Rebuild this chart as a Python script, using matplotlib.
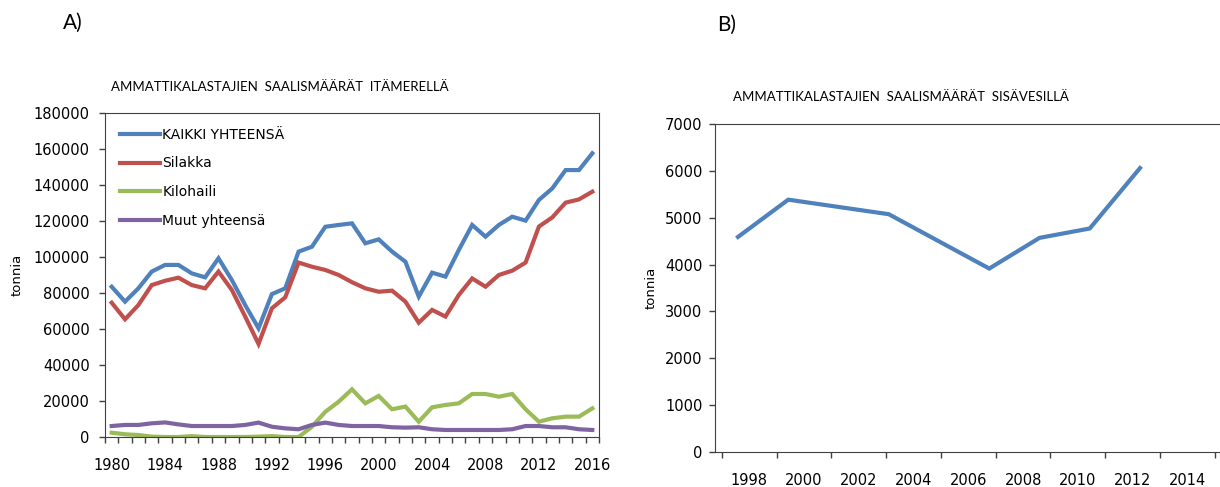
import matplotlib
matplotlib.use("Agg")
import matplotlib.pyplot as plt
import numpy as np

# --- data: Itämeri (A) ---
years_a = np.arange(1980, 2017)
kaikki = [83.5, 75.2, 82.6, 91.9, 95.6, 95.6, 90.9, 88.7, 99.3, 87.2,
          73.3, 60.4, 79.4, 82.6, 103.0, 105.7, 116.8, 117.8, 118.7, 107.6,
          109.8, 103.0, 97.4, 78.0, 91.3, 89.1, 103.9, 117.8, 111.3, 117.8,
          122.4, 120.2, 131.7, 138.1, 148.3, 148.3, 157.6]
silakka = [74.6, 65.4, 73.3, 84.4, 86.8, 88.5, 84.4, 82.6, 91.9, 81.7,
           66.9, 51.7, 71.5, 77.6, 96.9, 94.6, 92.8, 90.0, 86.0, 82.6,
           80.7, 81.3, 75.2, 63.5, 70.6, 66.9, 78.9, 88.1, 83.5, 90.0,
           92.4, 96.9, 116.9, 122.0, 130.2, 132.0, 136.3]
kilohaili = [2.4, 1.5, 1.1, 0.2, 0.0, 0.0, 0.5, 0.0, 0.0, 0.0,
             0.0, 0.2, 0.5, 0.0, 0.0, 5.7, 14.0, 19.6, 26.5, 18.7,
             22.8, 15.4, 16.9, 8.5, 16.5, 17.8, 18.7, 23.9, 23.9, 22.4,
             23.9, 15.4, 8.5, 10.4, 11.3, 11.3, 15.9]
muut = [6.1, 6.7, 6.7, 7.6, 8.1, 7.0, 6.1, 6.1, 6.1, 6.1,
        6.7, 8.0, 5.7, 4.8, 4.3, 6.7, 8.0, 6.7, 6.1, 6.1,
        6.1, 5.4, 5.2, 5.4, 4.3, 3.9, 3.9, 3.9, 3.9, 3.9,
        4.3, 6.1, 6.1, 5.4, 5.4, 4.3, 3.9]
series_a = [("KAIKKI YHTEENSÄ", kaikki, "#4F81BD"),
            ("Silakka", silakka, "#C0504D"),
            ("Kilohaili", kilohaili, "#9BBB59"),
            ("Muut yhteensä", muut, "#8064A2")]

# --- data: sisävedet (B) ---
years_b = [1998, 2000, 2004, 2008, 2010, 2012, 2014]
sisavedet = [4590, 5385, 5075, 3915, 4570, 4770, 6060]
labels_b = ["1998", "2000", "2002", "2004", "2006", "2008", "2010", "2012", "2014"]

tick_font = "DejaVu Sans"
title_font = "Lato"
axis_col = "#404040"

fig = plt.figure(figsize=(12.2, 4.87), dpi=100)

# ---------- A ----------
ax = fig.add_axes([105 / 1220, 50 / 487, 494 / 1220, 324 / 487])
for name, vals, col in series_a:
    ax.plot(years_a, np.array(vals) * 1000, color=col, lw=3, label=name,
            solid_joinstyle="miter")
ax.set_xlim(1979.5, 2016.5)
ax.set_ylim(0, 180000)
ax.set_yticks(np.arange(0, 180001, 20000))
ax.set_xticks(np.arange(1980, 2017, 4))
ax.set_xticks(np.arange(1979.5, 2017, 1), minor=True)
ax.tick_params(axis="x", which="major", length=0, pad=15, labelsize=10.5)
ax.tick_params(axis="x", which="minor", length=4.5, width=1, color=axis_col, direction="out")
ax.tick_params(axis="y", length=4.5, width=1, color=axis_col, pad=6.5, labelsize=10.5)
for lab in ax.get_xticklabels() + ax.get_yticklabels():
    lab.set_fontfamily(tick_font)
for s in ax.spines.values():
    s.set_color(axis_col)
ax.set_ylabel("tonnia", fontsize=9.5, family=tick_font)
ax.yaxis.set_label_coords(-0.165, 0.5)
leg = ax.legend(loc="upper left", bbox_to_anchor=(0.03, 0.955), frameon=False,
                borderpad=0, borderaxespad=0, handlelength=2.9, handletextpad=0.15,
                labelspacing=1.07, prop={"family": tick_font, "size": 10})

# ---------- B ----------
bx = fig.add_axes([715 / 1220, 35 / 487, 505 / 1220, 328 / 487])
bx.plot(years_b, sisavedet, color="#4F81BD", lw=3, solid_joinstyle="miter")
px_per_year = 25.125
bx.set_xlim(1998 - 23 / px_per_year, 1998 + 482 / px_per_year)
bx.set_ylim(0, 7000)
bx.set_yticks(np.arange(0, 7001, 1000))
slot = 54.75 / px_per_year
edges = 1998 - 16 / px_per_year + slot * np.arange(len(labels_b) + 1)
bx.set_xticks(edges[:-1] + slot / 2)
bx.set_xticklabels(labels_b)
bx.set_xticks(edges, minor=True)
bx.tick_params(axis="x", which="major", length=0, pad=15, labelsize=10.5)
bx.tick_params(axis="x", which="minor", length=4, width=1, color=axis_col, direction="out")
bx.tick_params(axis="y", length=4, width=1, color=axis_col, pad=5, labelsize=10.5)
for lab in bx.get_xticklabels() + bx.get_yticklabels():
    lab.set_fontfamily(tick_font)
bx.spines["right"].set_visible(False)
for s in bx.spines.values():
    s.set_color(axis_col)
bx.set_ylabel("tonnia", fontsize=9.5, family=tick_font)
bx.yaxis.set_label_coords(-0.113, 0.5)

# ---------- titles ----------
fig.text(280 / 1220, 1 - 87 / 487, "AMMATTIKALASTAJIEN  SAALISMÄÄRÄT  ITÄMERELLÄ",
         ha="center", va="center", family=title_font, fontsize=9.5)
fig.text(901 / 1220, 1 - 97 / 487, "AMMATTIKALASTAJIEN  SAALISMÄÄRÄT  SISÄVESILLÄ",
         ha="center", va="center", family=title_font, fontsize=9.5)
fig.text(63 / 1220, 1 - 23 / 487, "A)", ha="left", va="center", family=title_font, fontsize=15)
fig.text(717 / 1220, 1 - 25 / 487, "B)", ha="left", va="center", family=title_font, fontsize=15)

fig.savefig("out.png", dpi=100)
